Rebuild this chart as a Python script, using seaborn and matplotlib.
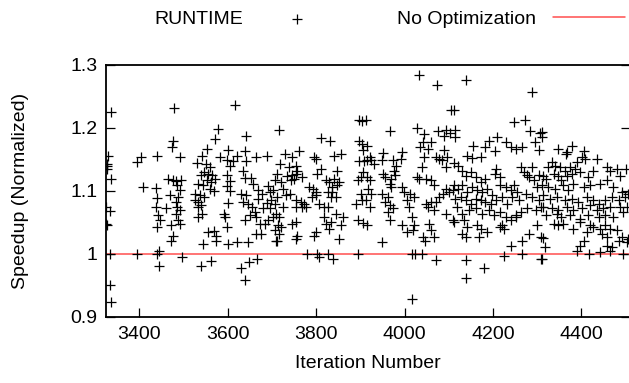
import matplotlib
matplotlib.use("Agg")
import matplotlib.pyplot as plt
import seaborn as sns
import pandas as pd

# ---------------- data ----------------
iteration = (
    [3337, 3330, 3326, 3327, 3327, 3337, 3325, 3334, 3325, 3327, 3334, 3335, 3334]
    + [3394, 3405, 3439, 3479, 3476, 3473, 3491, 3409, 3438, 3466, 3477, 3483, 3494, 3486, 3491]
    + [3469, 3488, 3441, 3438, 3460, 3483, 3486, 3492, 3483, 3443, 3447, 3441, 3471, 3488, 3492, 3476, 3472, 3445, 3395, 3439, 3445, 3496]
    + [3616, 3577, 3571, 3642, 3554, 3542, 3531, 3552, 3559, 3546, 3555, 3565, 3540, 3572, 3554, 3563]
    + [3533, 3544, 3559, 3569, 3525, 3537, 3546, 3527, 3533, 3539, 3532, 3533, 3542]
    + [3582, 3601, 3599, 3606, 3598, 3605, 3599, 3606, 3600, 3592, 3594, 3599, 3555, 3570, 3574, 3544, 3574, 3600, 3620, 3646]
    + [3622, 3640, 3612, 3642, 3665, 3688, 3635, 3639, 3652, 3657, 3631, 3642, 3635, 3646, 3654, 3661, 3650, 3639, 3665]
    + [3669, 3678, 3669, 3691, 3695, 3703, 3708, 3699, 3688, 3680, 3695, 3708, 3672, 3684, 3691, 3703, 3709, 3665, 3676, 3709, 3707]
    + [3540, 3563, 3631, 3648, 3667, 3640]
    + [3715, 3811, 3831, 3897, 3903, 3897, 3903, 3906, 3897, 3730, 3745, 3762, 3718, 3739, 3754, 3757]
    + [3712, 3720, 3735, 3746, 3755, 3768, 3724, 3743, 3751, 3731, 3740, 3712, 3754, 3765, 3773, 3768, 3778, 3755]
    + [3725, 3717, 3713, 3720, 3717, 3711, 3746, 3754, 3757, 3755, 3795, 3799, 3811, 3803, 3848, 3841, 3856]
    + [3784, 3793, 3799, 3791, 3800, 3822, 3829, 3841, 3852, 3848, 3837, 3826, 3833, 3845, 3837, 3807, 3818, 3826]
    + [3818, 3822, 3833, 3829, 3845, 3860, 3856, 3799, 3795, 3852, 3780, 3803, 3807, 3826, 3839, 3894]
    + [3894, 3901, 3906, 3908, 3890, 3903, 3894, 3906, 3901]
    + [4033, 4073, 4106, 3912, 3968, 4029, 4043, 4076, 4094, 4103, 4090]
    + [3914, 3921, 3924, 3930, 3915, 3952, 3950, 3973, 3981, 3976, 3995, 3993]
    + [3952, 3956, 3969, 3978, 3966, 3969, 3995, 3914, 3923, 3917, 3924, 3912, 3922, 3916]
    + [3950, 3962, 3956, 3966, 3973, 3962, 3968, 3950, 4035, 4041, 4052, 4060, 4045, 4039]
    + [4029, 4033, 4048, 4060, 4067, 4071, 4079, 4084, 4090, 4097, 4094]
    + [3998, 4013, 4021, 4006, 4010, 4018, 4021, 3995, 4006, 4019, 4041, 4046]
    + [4048, 4052, 4060, 4071, 4079, 4086, 4094, 4101, 4109, 4067, 4094, 4109, 4056, 4067, 4060]
    + [4018, 4024, 4039, 4071, 4018]
    + [4140, 4289, 4112, 4248, 4272, 4115, 4114, 4283, 4306, 4295, 4305]
    + [4210, 4191, 4183, 4204, 4229, 4240, 4251, 4266, 4155, 4142, 4153, 4172]
    + [4112, 4120, 4129, 4140, 4150, 4161, 4208, 4205, 4215, 4183, 4174]
    + [4263, 4270, 4278, 4289, 4282, 4293, 4304, 4300]
    + [4112, 4120, 4131, 4142, 4153, 4164, 4176, 4187, 4198, 4217, 4229, 4240, 4248, 4255]
    + [4115, 4127, 4138, 4150, 4161, 4172, 4183, 4195, 4206, 4221, 4232, 4244, 4259, 4274, 4289, 4304]
    + [4119, 4131, 4146, 4161, 4176, 4191, 4202, 4217, 4229, 4251, 4263, 4278, 4297, 4308]
    + [4112, 4134, 4142, 4131, 4138, 4164, 4172, 4168, 4187, 4217, 4225, 4221, 4240, 4251]
    + [4282, 4266, 4240, 4308, 4300, 4225, 4266, 4138, 4180, 4140, 4308]
    + [4310, 4310, 4348, 4367, 4378, 4365, 4405, 4408, 4435, 4401]
    + [4333, 4340, 4325, 4352, 4363, 4374, 4389, 4385]
    + [4314, 4321, 4337, 4348, 4355, 4367, 4378, 4397, 4416, 4427, 4457, 4465, 4480, 4487, 4502]
    + [4310, 4325, 4340, 4359, 4370, 4382, 4405, 4420, 4442, 4457, 4472, 4491, 4506]
    + [4314, 4329, 4344, 4363, 4378, 4393, 4412, 4427, 4439, 4454, 4469, 4484, 4499]
    + [4314, 4333, 4348, 4367, 4382, 4401, 4420, 4435, 4450, 4465, 4488, 4503]
    + [4321, 4344, 4355, 4374, 4397, 4416, 4439, 4454, 4472, 4495]
    + [4337, 4348, 4359, 4382, 4397, 4420, 4427, 4442, 4454, 4465, 4480, 4491]
    + [4412, 4446, 4457, 4484, 4506, 4503, 4405, 4397, 4457, 4469, 4465, 4442, 4389, 4314, 4317, 4312, 4418, 4494]
)

speedup = (
    [1.225, 1.156, 1.143, 1.139, 1.135, 1.119, 1.075, 1.068, 1.048, 1.046, 0.950, 0.923, 1.000]
    + [1.146, 1.153, 1.155, 1.231, 1.179, 1.169, 1.153, 1.106, 1.105, 1.119, 1.118, 1.116, 1.118, 1.109, 1.102]
    + [1.093, 1.090, 1.089, 1.074, 1.072, 1.082, 1.074, 1.070, 1.064, 1.061, 1.053, 1.042, 1.045, 1.054, 1.048, 1.029, 1.021, 1.005, 1.000, 1.000, 0.980, 0.995]
    + [1.237, 1.199, 1.183, 1.187, 1.166, 1.155, 1.144, 1.143, 1.138, 1.130, 1.127, 1.125, 1.125, 1.119, 1.117, 1.114]
    + [1.111, 1.109, 1.103, 1.100, 1.095, 1.093, 1.090, 1.085, 1.082, 1.078, 1.074, 1.059, 1.063]
    + [1.153, 1.165, 1.149, 1.140, 1.125, 1.116, 1.107, 1.100, 1.081, 1.063, 1.058, 1.042, 1.034, 1.036, 1.029, 1.016, 1.021, 1.015, 1.019, 1.019]
    + [1.156, 1.164, 1.148, 1.148, 1.153, 1.155, 1.132, 1.121, 1.121, 1.111, 1.095, 1.093, 1.082, 1.079, 1.074, 1.066, 1.061, 1.053, 1.058]
    + [1.101, 1.095, 1.087, 1.107, 1.098, 1.101, 1.117, 1.085, 1.081, 1.072, 1.072, 1.079, 1.048, 1.048, 1.053, 1.058, 1.064, 1.032, 1.032, 1.021, 1.037]
    + [0.981, 0.989, 0.978, 0.987, 0.992, 0.958]
    + [1.197, 1.184, 1.179, 1.212, 1.211, 1.180, 1.174, 1.165, 1.148, 1.158, 1.154, 1.163, 1.143, 1.138, 1.139, 1.132]
    + [1.127, 1.114, 1.123, 1.125, 1.127, 1.122, 1.103, 1.117, 1.119, 1.093, 1.095, 1.090, 1.085, 1.082, 1.079, 1.074, 1.074, 1.074]
    + [1.074, 1.058, 1.045, 1.042, 1.032, 1.021, 1.048, 1.050, 1.029, 1.024, 1.154, 1.151, 1.135, 1.127, 1.132, 1.156, 1.158]
    + [1.106, 1.103, 1.098, 1.090, 1.093, 1.117, 1.114, 1.119, 1.114, 1.109, 1.106, 1.098, 1.090, 1.090, 1.098, 1.079, 1.074, 1.074]
    + [1.058, 1.048, 1.050, 1.040, 1.064, 1.058, 1.045, 1.034, 1.029, 1.024, 1.000, 0.999, 0.995, 1.000, 0.992, 1.000]
    + [1.117, 1.122, 1.130, 1.148, 1.079, 1.085, 1.053, 1.049, 1.095]
    + [1.284, 1.269, 1.229, 1.212, 1.195, 1.200, 1.191, 1.195, 1.196, 1.192, 1.187]
    + [1.171, 1.154, 1.149, 1.143, 1.149, 1.160, 1.149, 1.149, 1.139, 1.132, 1.162, 1.151]
    + [1.127, 1.122, 1.119, 1.125, 1.111, 1.106, 1.106, 1.122, 1.117, 1.103, 1.095, 1.085, 1.074, 1.045]
    + [1.095, 1.090, 1.082, 1.077, 1.072, 1.066, 1.053, 1.019, 1.169, 1.178, 1.167, 1.178, 1.154, 1.138]
    + [1.122, 1.119, 1.119, 1.117, 1.109, 1.154, 1.151, 1.149, 1.165, 1.154, 1.138]
    + [1.098, 1.095, 1.090, 1.085, 1.074, 1.058, 1.045, 1.045, 1.034, 1.037, 1.026, 1.021]
    + [1.079, 1.074, 1.082, 1.082, 1.090, 1.095, 1.103, 1.098, 1.101, 1.069, 1.064, 1.053, 1.048, 1.026, 1.037]
    + [1.000, 1.000, 1.000, 0.990, 0.928]
    + [1.276, 1.257, 1.229, 1.209, 1.213, 1.196, 1.185, 1.195, 1.192, 1.178, 1.165]
    + [1.185, 1.180, 1.169, 1.163, 1.178, 1.170, 1.167, 1.169, 1.171, 1.156, 1.152, 1.153]
    + [1.144, 1.140, 1.132, 1.124, 1.130, 1.122, 1.135, 1.127, 1.122, 1.119, 1.114]
    + [1.138, 1.130, 1.125, 1.138, 1.122, 1.117, 1.125, 1.106]
    + [1.109, 1.103, 1.109, 1.098, 1.106, 1.101, 1.098, 1.103, 1.093, 1.109, 1.106, 1.101, 1.109, 1.098]
    + [1.087, 1.090, 1.085, 1.079, 1.087, 1.085, 1.082, 1.079, 1.085, 1.090, 1.079, 1.090, 1.085, 1.095, 1.090, 1.085]
    + [1.074, 1.064, 1.069, 1.072, 1.064, 1.069, 1.061, 1.066, 1.058, 1.061, 1.066, 1.072, 1.069, 1.074]
    + [1.050, 1.053, 1.042, 1.032, 1.026, 1.045, 1.040, 1.026, 1.034, 1.042, 1.040, 1.045, 1.053, 1.058]
    + [1.032, 1.021, 1.013, 1.026, 1.045, 0.997, 1.000, 0.990, 0.978, 0.962, 0.992]
    + [1.193, 1.185, 1.167, 1.162, 1.171, 1.158, 1.164, 1.151, 1.151, 1.154]
    + [1.146, 1.140, 1.138, 1.138, 1.132, 1.138, 1.146, 1.135]
    + [1.124, 1.119, 1.127, 1.124, 1.117, 1.124, 1.127, 1.130, 1.122, 1.132, 1.138, 1.132, 1.135, 1.124, 1.135]
    + [1.109, 1.106, 1.103, 1.109, 1.101, 1.111, 1.106, 1.109, 1.111, 1.117, 1.106, 1.098, 1.095]
    + [1.093, 1.087, 1.090, 1.085, 1.087, 1.082, 1.090, 1.085, 1.079, 1.085, 1.090, 1.085, 1.090]
    + [1.074, 1.072, 1.069, 1.074, 1.069, 1.072, 1.077, 1.069, 1.072, 1.074, 1.074, 1.074]
    + [1.061, 1.064, 1.058, 1.061, 1.056, 1.061, 1.058, 1.061, 1.058, 1.066]
    + [1.048, 1.045, 1.048, 1.040, 1.050, 1.045, 1.042, 1.040, 1.045, 1.040, 1.037, 1.026]
    + [1.034, 1.032, 1.026, 1.021, 1.024, 1.019, 1.021, 1.013, 1.013, 1.011, 1.005, 1.003, 1.005, 1.025, 1.011, 0.992, 1.000, 1.000]
)

baseline = 1.0  # "No Optimization"
x_ticks = [3400, 3600, 3800, 4000, 4200, 4400]
y_ticks = [0.9, 1.0, 1.1, 1.2, 1.3]
y_tick_labels = ["0.9", "1", "1.1", "1.2", "1.3"]

assert len(iteration) == len(speedup), (len(iteration), len(speedup))

# ---------------- style ----------------
sns.set_theme(style="white")
plt.rcParams["font.family"] = ["Liberation Sans", "DejaVu Sans"]
plt.rcParams.update({
    "text.color": "black", "axes.labelcolor": "black",
    "xtick.color": "black", "ytick.color": "black",
    "axes.edgecolor": "black",
})

fig = plt.figure(figsize=(6.29, 3.83), dpi=100)
ax = fig.add_axes([106 / 629, (383 - 316.7) / 383, 524 / 629, (316.7 - 65) / 383])

df = pd.DataFrame({"Iteration": iteration, "Speedup": speedup})
sns.scatterplot(data=df, x="Iteration", y="Speedup", marker="+", color="black",
                s=50, linewidth=0.9, ax=ax, label="RUNTIME", zorder=3)
ax.axhline(baseline, color="#ff3030", lw=1.1, alpha=0.85, label="No Optimization", zorder=2)

ax.set_xlim(3324.7, 4510)
ax.set_ylim(0.9, 1.3)
ax.set_xticks(x_ticks)
ax.set_xticklabels([str(t) for t in x_ticks])
ax.set_yticks(y_ticks)
ax.set_yticklabels(y_tick_labels)
ax.tick_params(axis="both", direction="in", length=6.5, width=0.9, labelsize=14)
ax.tick_params(axis="x", top=False, bottom=True, pad=7)
ax.tick_params(axis="y", left=True, right=True, pad=6)
for sp in ax.spines.values():
    sp.set_linewidth(1.3)
    sp.set_color("black")

ax.set_xlabel("Iteration Number", fontsize=14, labelpad=8)
ax.set_ylabel("Speedup (Normalized)", fontsize=14, labelpad=30)

ax.legend(ncol=2, markerfirst=False, frameon=False, fontsize=14,
          loc="center", bbox_to_anchor=(0.62, 0.95), bbox_transform=fig.transFigure,
          handlelength=3.7, handletextpad=0.9, columnspacing=3.3, scatterpoints=1,
          borderaxespad=0, borderpad=0)

fig.savefig("out.png", dpi=100)
